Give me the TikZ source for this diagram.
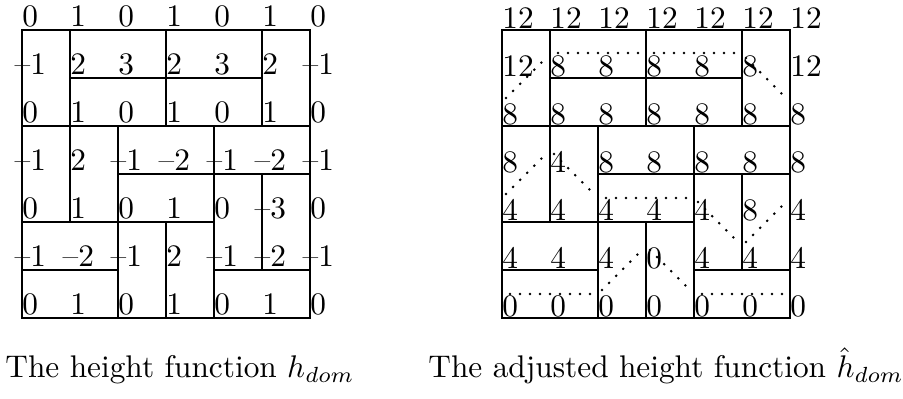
\documentclass[tikz,border=0pt]{standalone}
\usepackage{graphicx}
\newcommand\sx[1]{\scalebox{1.39}{#1}}
\tikzset{
  dom/.style={line width=1.05pt},
  lab/.style={inner sep=0pt, anchor=base west},
  dotline/.style={line width=1.3pt, line cap=round, dash pattern=on 0pt off 4.44pt},
}
\begin{document}
\begin{tikzpicture}[x=0.444pt,y=-0.444pt]
\useasboundingbox (0,0) rectangle (903,399);
% domino tilings
\foreach \X in {22,502}{
  \foreach \c/\r/\w/\h in {0/0/1/2,1/0/2/1,1/1/2/1,3/0/2/1,3/1/2/1,5/0/1/2,
      0/2/1/2,1/2/1/2,2/2/2/1,4/2/2/1,2/3/2/1,4/3/1/2,5/3/1/2,
      0/4/2/1,0/5/2/1,2/4/1/2,3/4/1/2,4/5/2/1}
    \draw[dom] ({\X+48*\c},{30+48*\r}) rectangle ({\X+48*(\c+\w)},{30+48*(\r+\h)});
}
% left labels
\foreach \row [count=\j from 0] in {{0,1,0,1,0,1,0},{-1,2,3,2,3,2,-1},{0,1,0,1,0,1,0},
    {-1,2,-1,-2,-1,-2,-1},{0,1,0,1,0,-3,0},{-1,-2,-1,2,-1,-2,-1},{0,1,0,1,0,1,0}}{
  \foreach \v [count=\i from 0] in \row {
    \ifnum\v<0
      \node[lab] (a\i\j) at ({22+48*\i-7.8},{30+48*\j-3.5}) {\sx{--\number\numexpr0-\v\relax}};
    \else
      \node[lab] (a\i\j) at ({22+48*\i},{30+48*\j-3.5}) {\sx{\v}};
    \fi
  }
}
% right labels
\foreach \row [count=\j from 0] in {{12,12,12,12,12,12,12},{12,8,8,8,8,8,12},{8,8,8,8,8,8,8},
    {8,4,8,8,8,8,8},{4,4,4,4,4,8,4},{4,4,4,0,4,4,4},{0,0,0,0,0,0,0}}{
  \foreach \v [count=\i from 0] in \row {
    \node[lab] (b\i\j) at ({502+48*\i},{30+48*\j-1.5}) {\sx{\v}};
  }
}
% dotted lines
\foreach \cx/\cy/\dx/\dy in {526/78/20/-20, 598/53/40/0, 694/53/40/0, 766/78/20/20,
    526/174/20/-20, 574/174/20/20, 646/198/40/0, 718/222/20/20, 766/222/20/-20,
    550/294/40/0, 622/270/20/-20, 670/270/20/20, 742/294/40/0}
  \draw[dotline] ({\cx-\dx},{\cy-\dy}) -- ({\cx+\dx},{\cy+\dy});
% captions
\node[lab] (cap1) at (5,378) {\sx{The height function $h_{dom}$}};
\node[lab] (cap2) at (428,378) {\sx{The adjusted height function $\hat h_{dom}$}};
\end{tikzpicture}
\end{document}
